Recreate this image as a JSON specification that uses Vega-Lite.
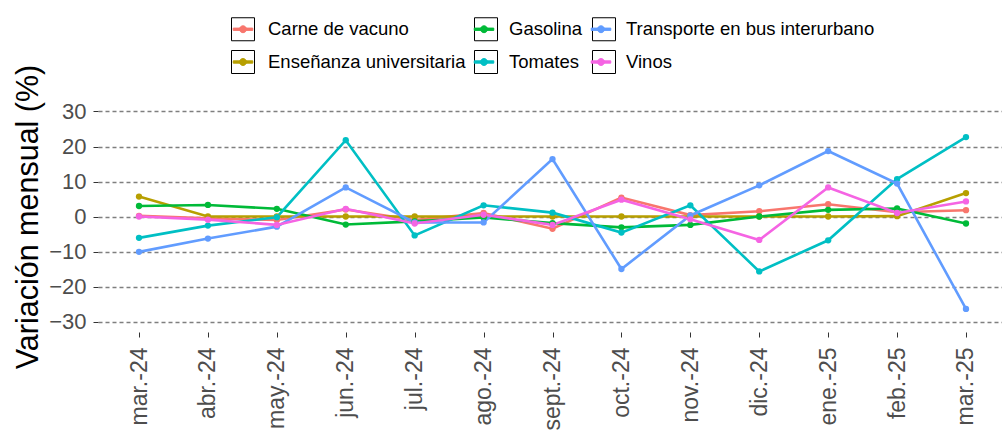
{
  "$schema": "https://vega.github.io/schema/vega-lite/v6.json",
  "width": 909,
  "height": 231,
  "autosize": {"type": "none"},
  "padding": {"left": 98, "top": 101, "right": -5, "bottom": 99},
  "background": "white",
  "config": {
    "font": "Liberation Sans",
    "view": {"stroke": null},
    "axis": {"domain": false, "labelFont": "Liberation Sans", "titleFont": "Liberation Sans"},
    "legend": {"labelFont": "Liberation Sans"}
  },
  "datasets": {
    "ipc": [
      {"mes": "mar.-24", "Carne de vacuno": 0.2, "Enseñanza universitaria": 5.7, "Gasolina": 3.0, "Tomates": -6.1, "Transporte en bus interurbano": -10.1, "Vinos": 0.0},
      {"mes": "abr.-24", "Carne de vacuno": -0.5, "Enseñanza universitaria": 0.0, "Gasolina": 3.3, "Tomates": -2.6, "Transporte en bus interurbano": -6.3, "Vinos": -0.9},
      {"mes": "may.-24", "Carne de vacuno": -1.0, "Enseñanza universitaria": 0.0, "Gasolina": 2.2, "Tomates": -0.2, "Transporte en bus interurbano": -2.9, "Vinos": -2.4},
      {"mes": "jun.-24", "Carne de vacuno": 2.0, "Enseñanza universitaria": 0.0, "Gasolina": -2.3, "Tomates": 21.8, "Transporte en bus interurbano": 8.3, "Vinos": 2.2},
      {"mes": "jul.-24", "Carne de vacuno": -1.0, "Enseñanza universitaria": 0.0, "Gasolina": -1.4, "Tomates": -5.4, "Transporte en bus interurbano": -1.7, "Vinos": -2.0},
      {"mes": "ago.-24", "Carne de vacuno": 1.0, "Enseñanza universitaria": 0.0, "Gasolina": -0.3, "Tomates": 3.2, "Transporte en bus interurbano": -1.7, "Vinos": 0.5},
      {"mes": "sept.-24", "Carne de vacuno": -3.5, "Enseñanza universitaria": 0.0, "Gasolina": -1.9, "Tomates": 1.1, "Transporte en bus interurbano": 16.4, "Vinos": -2.4},
      {"mes": "oct.-24", "Carne de vacuno": 5.4, "Enseñanza universitaria": 0.0, "Gasolina": -3.1, "Tomates": -4.6, "Transporte en bus interurbano": -15.0, "Vinos": 4.8},
      {"mes": "nov.-24", "Carne de vacuno": 0.4, "Enseñanza universitaria": 0.0, "Gasolina": -2.4, "Tomates": 3.2, "Transporte en bus interurbano": 0.3, "Vinos": -0.8},
      {"mes": "dic.-24", "Carne de vacuno": 1.5, "Enseñanza universitaria": 0.0, "Gasolina": 0.0, "Tomates": -15.7, "Transporte en bus interurbano": 8.9, "Vinos": -6.7},
      {"mes": "ene.-25", "Carne de vacuno": 3.5, "Enseñanza universitaria": 0.0, "Gasolina": 1.9, "Tomates": -6.8, "Transporte en bus interurbano": 18.7, "Vinos": 8.3},
      {"mes": "feb.-25", "Carne de vacuno": 1.2, "Enseñanza universitaria": 0.1, "Gasolina": 2.3, "Tomates": 10.7, "Transporte en bus interurbano": 9.4, "Vinos": 1.0},
      {"mes": "mar.-25", "Carne de vacuno": 1.8, "Enseñanza universitaria": 6.7, "Gasolina": -2.0, "Tomates": 22.7, "Transporte en bus interurbano": -26.4, "Vinos": 4.3}
    ],
    "series": [
      {"nombre": "Carne de vacuno"},
      {"nombre": "Enseñanza universitaria"},
      {"nombre": "Gasolina"},
      {"nombre": "Tomates"},
      {"nombre": "Transporte en bus interurbano"},
      {"nombre": "Vinos"}
    ]
  },
  "layer": [
    {
      "data": {"name": "ipc"},
      "transform": [
        {"fold": ["Carne de vacuno", "Enseñanza universitaria", "Gasolina", "Tomates", "Transporte en bus interurbano", "Vinos"], "as": ["serie", "valor"]}
      ],
      "encoding": {
        "x": {
          "field": "mes", "type": "ordinal", "sort": null,
          "scale": {"type": "point", "padding": 0.595},
          "axis": {"title": null, "labelAngle": -90, "labelFontSize": 23, "labelColor": "#4D4D4D", "tickColor": "#333333", "tickSize": 5, "tickWidth": 1, "labelPadding": 10, "grid": false}
        },
        "y": {
          "field": "valor", "type": "quantitative",
          "scale": {"domain": [-33, 33], "nice": false, "zero": false},
          "axis": {
            "title": "Variación mensual (%)", "titleFontSize": 30.5, "titleFontWeight": "normal", "titleColor": "#000000", "titlePadding": 5,
            "values": [-30, -20, -10, 0, 10, 20, 30],
            "labelFontSize": 22, "labelColor": "#4D4D4D", "labelPadding": 7,
            "tickColor": "#333333", "tickSize": 5, "tickWidth": 1,
            "grid": true, "gridColor": "#7F7F7F", "gridDash": [4, 3], "gridWidth": 1.3
          }
        },
        "color": {
          "field": "serie", "type": "nominal",
          "scale": {
            "domain": ["Carne de vacuno", "Gasolina", "Transporte en bus interurbano", "Enseñanza universitaria", "Tomates", "Vinos"],
            "range": ["#F8766D", "#00BA38", "#619CFF", "#B79F00", "#00BFC4", "#F564E3"]
          },
          "legend": {
            "title": null, "orient": "none", "legendX": 133, "legendY": -84, "direction": "horizontal", "columns": 3, "zindex": 2,
            "labelFontSize": 18.5, "labelColor": "#000000", "labelOffset": 13, "columnPadding": 4, "rowPadding": 5, "padding": 0, "labelLimit": 0,
            "symbolType": "M-1,-1L-1,-1M1,1L1,1M-0.85,-0.1L0.85,-0.1L0.85,0.1L-0.85,0.1Z M0.3,0A0.3,0.3 0 1,1 -0.3,0A0.3,0.3 0 1,1 0.3,0Z",
            "symbolSize": 529, "symbolStrokeWidth": 1, "symbolStrokeColor": "transparent", "symbolOpacity": 1
          }
        }
      },
      "layer": [
        {"mark": {"type": "line", "strokeWidth": 2.6}},
        {"mark": {"type": "circle", "size": 40, "opacity": 1}}
      ]
    },
    {
      "data": {"name": "series"},
      "mark": {"type": "point", "opacity": 0, "filled": false},
      "encoding": {
        "shape": {
          "field": "nombre", "type": "nominal",
          "sort": ["Carne de vacuno", "Gasolina", "Transporte en bus interurbano", "Enseñanza universitaria", "Tomates", "Vinos"],
          "scale": {"range": [
            "M-1,-1L1,-1L1,1L-1,1ZM19.34,0L19.34,0",
            "M-1,-1L1,-1L1,1L-1,1ZM8.52,0L8.52,0",
            "M-1,-1L1,-1L1,1L-1,1Z",
            "M-1,-1L1,-1L1,1L-1,1ZM19.34,0L19.34,0",
            "M-1,-1L1,-1L1,1L-1,1ZM8.52,0L8.52,0",
            "M-1,-1L1,-1L1,1L-1,1Z"
          ]},
          "legend": {
            "title": null, "orient": "none", "legendX": 133, "legendY": -84, "direction": "horizontal", "columns": 3, "zindex": 1,
            "labelFontSize": 1, "labelExpr": "''", "labelOffset": 0, "columnPadding": 4, "rowPadding": 5, "padding": 0,
            "symbolSize": 529, "symbolStrokeWidth": 1, "symbolOpacity": 1, "symbolFillColor": "transparent", "symbolStrokeColor": "#000000"
          }
        }
      }
    }
  ]
}
